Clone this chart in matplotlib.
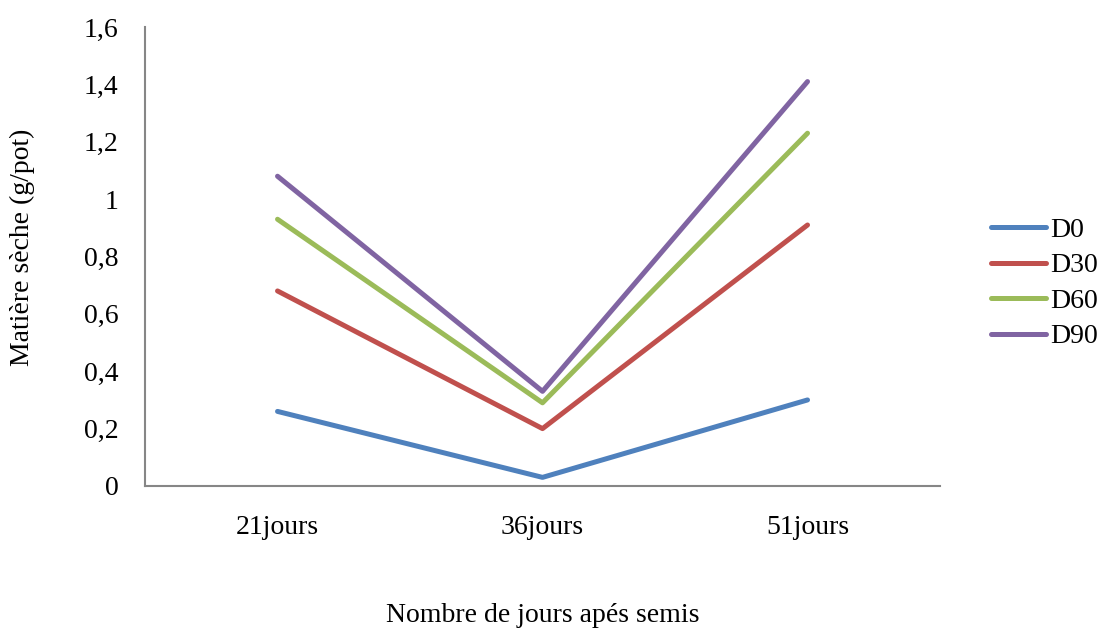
import matplotlib
matplotlib.use("Agg")
import matplotlib.pyplot as plt
from matplotlib.lines import Line2D

# Dry matter per pot by sampling date and dose
days = ["21jours", "36jours", "51jours"]
series_names = ["D0", "D30", "D60", "D90"]
d0 = [0.26, 0.03, 0.30]
d30 = [0.68, 0.20, 0.91]
d60 = [0.93, 0.29, 1.23]
d90 = [1.08, 0.33, 1.41]
y_ticks = [0, 0.2, 0.4, 0.6, 0.8, 1.0, 1.2, 1.4, 1.6]

colors = ["#4F81BD", "#C0504D", "#9BBB59", "#8064A2"]

plt.rcParams["font.family"] = ["Liberation Serif", "DejaVu Serif"]
plt.rcParams["font.size"] = 20

fig = plt.figure(figsize=(10.97, 6.30), dpi=100)
ax = fig.add_axes([0.1322, 0.2286, 0.7247, 0.7284])

x = [i + 0.5 for i in range(len(days))]
for name, vals, c in zip(series_names, [d0, d30, d60, d90], colors):
    ax.plot(x, vals, color=c, lw=3.6, solid_capstyle="round", label=name)

ax.set_xlim(0, len(days))
ax.set_ylim(0, 1.6)
ax.set_yticks(y_ticks)
ax.set_yticklabels([f"{v:g}".replace(".", ",") for v in y_ticks])
ax.set_xticks(x)
ax.set_xticklabels(days)
ax.tick_params(length=0)
ax.tick_params(axis="y", pad=19)
ax.tick_params(axis="x", pad=21)

for side in ["top", "right"]:
    ax.spines[side].set_visible(False)
for side in ["left", "bottom"]:
    ax.spines[side].set_color("#868686")
    ax.spines[side].set_linewidth(1.5)

ax.set_xlabel("Nombre de jours apés semis", va="center")
ax.xaxis.set_label_coords(0.5, -0.283)
ax.set_ylabel("Matière sèche (g/pot)", va="center")
ax.yaxis.set_label_coords(-0.1548, 0.52)

handles = [Line2D([0], [0], color=c, lw=3.6, solid_capstyle="round") for c in colors]
fig.legend(handles, series_names, loc="center left", bbox_to_anchor=(0.893, 0.55),
           borderaxespad=0, frameon=False, handlelength=2.0, handletextpad=0.15,
           labelspacing=0.36)

fig.savefig("out.png", dpi=100)
